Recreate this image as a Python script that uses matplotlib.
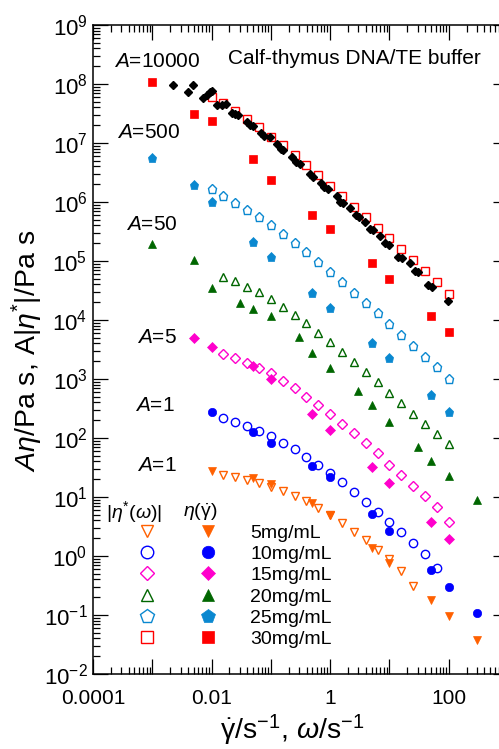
import numpy as np
import matplotlib
matplotlib.use('Agg')
import matplotlib.pyplot as plt
from matplotlib.legend_handler import HandlerTuple
from matplotlib.ticker import FixedLocator, LogLocator, FuncFormatter, NullFormatter

plt.rcParams['font.family'] = ['Liberation Sans', 'DejaVu Sans']
plt.rcParams['mathtext.fontset'] = 'custom'
plt.rcParams['mathtext.rm'] = 'Liberation Sans'
plt.rcParams['mathtext.it'] = 'Liberation Sans:italic'
plt.rcParams['mathtext.bf'] = 'Liberation Sans:bold'
plt.rcParams['axes.unicode_minus'] = False

# oscillatory frequency grid (rad/s), 5 points per decade
omega = [0.01, 0.0158, 0.0251, 0.0398, 0.0631, 0.1, 0.158, 0.251, 0.398, 0.631,
         1.0, 1.58, 2.51, 3.98, 6.31, 10.0, 15.8, 25.1, 39.8, 63.1, 100.0]

# |eta*(omega)| in Pa s (unshifted)
w_5 = omega[1:18]
etac_5 = [23.6, 21.8, 19.4, 17.3, 14.8, 12.6, 10.4, 8.55, 6.51, 4.95, 3.62, 2.55,
          1.87, 1.26, 0.889, 0.557, 0.310]
w_10 = omega[1:20]
etac_10 = [218, 187, 160, 131, 108, 82.3, 65.1, 47.6, 34.8, 25.5, 17.9, 12.2, 8.23,
           5.57, 3.77, 2.55, 1.66, 1.08, 0.627]
w_15 = omega[1:21]
etac_15 = [531, 454, 373, 307, 253, 185, 141, 99, 72.4, 51.1, 34.5, 24.3, 16.4, 11.1,
           6.97, 4.72, 3.07, 2.08, 1.36, 0.753]
w_20 = omega[1:21]
etac_20 = [1071, 916, 725, 597, 454, 332, 243, 178, 120, 84.7, 57.4, 38.8, 26.3, 17.8,
           11.6, 7.84, 5.11, 3.45, 2.34, 1.58]
w_25 = omega
etac_25 = [3320, 2520, 1920, 1460, 1114, 814, 574, 404, 284, 192, 130, 88, 57.4,
           38.8, 26.2, 17.2, 11.2, 7.2, 4.72, 3.2, 2.0]
w_30 = omega
etac_30 = [6020, 4760, 3480, 2550, 1870, 1260, 925, 626, 424, 287, 187, 126, 82.3,
           55.7, 36.2, 24.5, 16.0, 10.4, 6.78, 4.41, 2.76]

# steady shear eta(gamma_dot) in Pa s (unshifted)
g_5 = [0.01, 0.05, 0.1, 0.5, 1, 5, 10, 50, 100, 300]
eta_5 = [27.6, 21.0, 16.6, 7.91, 4.95, 1.37, 0.760, 0.179, 0.0962, 0.0377]
g_10 = [0.01, 0.05, 0.1, 0.5, 1, 5, 10, 50, 100, 300]
eta_10 = [276, 126, 82.3, 33.5, 21.8, 5.15, 2.65, 0.580, 0.299, 0.108]
g_15 = [0.005, 0.01, 0.05, 0.1, 0.5, 1, 5, 10, 50, 100]
eta_15 = [991, 697, 332, 200, 51.1, 27.4, 6.44, 3.45, 0.753, 0.388]
g_20 = [0.001, 0.005, 0.01, 0.03, 0.05, 0.1, 0.3, 0.5, 1, 3, 5, 10, 30, 50, 100, 300]
eta_20 = [3880, 2080, 697, 388, 307, 234, 103, 55.2, 30.7, 12.5, 7.25, 3.73, 1.41,
          0.815, 0.454, 0.178]
g_25 = [0.001, 0.005, 0.01, 0.05, 0.1, 0.5, 1, 5, 10, 50, 100]
eta_25 = [11140, 3880, 2000, 420, 234, 57.4, 32, 8.15, 4.54, 1.07, 0.55]
g_30 = [0.001, 0.005, 0.01, 0.05, 0.1, 0.5, 1, 5, 10, 50, 100]
eta_30 = [10800, 3100, 2360, 536, 236, 60, 34.9, 9.25, 4.95, 1.17, 0.626]

# second steady shear run for 30 mg/mL (black diamonds)
g_30b = [0.00223, 0.0040, 0.00485, 0.00716, 0.00835, 0.0094, 0.0102, 0.0123, 0.0150,
         0.0175, 0.0221, 0.0248, 0.0279, 0.0395, 0.0445, 0.0499, 0.0681, 0.0766,
         0.0966, 0.127, 0.148, 0.160, 0.227, 0.265, 0.310, 0.456, 0.513, 0.700, 0.785,
         0.918, 1.30, 1.46, 1.64, 2.16, 2.72, 3.06, 3.86, 4.69, 5.27, 6.92, 8.40, 9.8,
         13.9, 16.3, 22.2, 26.9, 30.3, 44.6, 52.1, 97]
eta_30b = [9620, 7310, 9620, 5790, 6510, 7310, 7600, 4400, 4400, 4580, 3220, 3100,
           2990, 2270, 2020, 1940, 1480, 1310, 1260, 962, 791, 761, 579, 476, 441, 299,
           265, 210, 180, 166, 126, 100, 96, 79, 60, 55.7, 45.8, 34.8, 33.5, 26.5, 20.2,
           18.7, 11.7, 11.2, 9.25, 6.78, 6.51, 3.92, 3.62, 2.10]

labels = ['5mg/mL', '10mg/mL', '15mg/mL', '20mg/mL', '25mg/mL', '30mg/mL']
shift = [1, 1, 5, 50, 500, 10000]
colors = ['#FF6000', '#0000FF', '#FF00CC', '#006600', '#0A88D0', '#FF0000']
markers = ['v', 'o', 'D', '^', 'p', 's']
msizes = [6.2, 6.0, 5.0, 6.2, 6.6, 5.5]

osc = [(w_5, etac_5), (w_10, etac_10), (w_15, etac_15), (w_20, etac_20),
       (w_25, etac_25), (w_30, etac_30)]
steady = [(g_5, eta_5), (g_10, eta_10), (g_15, eta_15), (g_20, eta_20),
          (g_25, eta_25), (g_30, eta_30)]

fig = plt.figure(figsize=(4.99, 7.49), dpi=100)
ax = fig.add_axes([93 / 499, 75 / 749, 415 / 499, 649 / 749])

handles = []
for i in range(6):
    w, ec = osc[i]
    g, e = steady[i]
    A = shift[i]
    lo, = ax.plot(w, np.array(ec) * A, linestyle='none', marker=markers[i],
                  ms=msizes[i], mfc='none', mec=colors[i], mew=1.0, zorder=3)
    lf, = ax.plot(g, np.array(e) * A, linestyle='none', marker=markers[i],
                  ms=msizes[i], mfc=colors[i], mec=colors[i], mew=0.5, zorder=4)
    handles.append((lo, lf))

ax.plot(g_30b, np.array(eta_30b) * shift[5], linestyle='none', marker='D', ms=3.8,
        color='black', zorder=5)

ax.set_xscale('log')
ax.set_yscale('log')
ax.set_xlim(1e-4, 1e3)
ax.set_ylim(1e-2, 1e9)

ax.xaxis.set_major_locator(FixedLocator(10.0 ** np.arange(-4, 4)))
ax.xaxis.set_major_formatter(FuncFormatter(
    lambda v, pos: ('%g' % v) if round(np.log10(v)) % 2 == 0 else ''))
ax.xaxis.set_minor_locator(LogLocator(base=10, subs=np.arange(2, 10), numticks=20))
ax.xaxis.set_minor_formatter(NullFormatter())
ax.yaxis.set_major_locator(LogLocator(base=10, numticks=20))
ax.yaxis.set_minor_locator(LogLocator(base=10, subs=np.arange(2, 10), numticks=20))
ax.yaxis.set_minor_formatter(NullFormatter())

ax.tick_params(which='both', direction='in', top=True, right=True, width=0.9)
ax.tick_params(which='major', length=10.8)
ax.tick_params(which='minor', length=5.2)
ax.tick_params(axis='x', which='major', pad=11, labelsize=15)
ax.tick_params(axis='y', which='major', pad=4, labelsize=16)
for s in ax.spines.values():
    s.set_linewidth(1.1)

fig.text(27 / 499, 1 - 351 / 749, r'$A\eta$/Pa s, A|$\eta^{*}$|/Pa s', rotation=90,
         ha='center', va='center', fontsize=20.5)
fig.text(292 / 499, 1 - 730 / 749,
         r'$\dot{\mathrm{\gamma}}$/s$^{-1}$, $\omega$/s$^{-1}$',
         ha='center', va='center', fontsize=20.5)

ax.text(0.325, 0.949, 'Calf-thymus DNA/TE buffer', transform=ax.transAxes,
        ha='left', va='center', fontsize=15)

# shift factor labels, bottom to top (5, 10, 15, 20, 25, 30 mg/mL)
txt_pos = [(0.202, 0.322), (0.198, 0.414), (0.202, 0.519), (0.205, 0.692),
           (0.210, 0.834), (0.258, 0.943)]
for i in range(6):
    x, y = txt_pos[i]
    ax.text(x, y, '$A$=%d' % shift[i], transform=ax.transAxes, ha='right',
            va='center', fontsize=15)

ax.text(0.099, 0.250, r'|$\eta^{*}(\omega)$|', transform=ax.transAxes,
        ha='center', va='center', fontsize=14)
ax.text(0.258, 0.250, r'$\eta(\dot{\mathrm{\gamma}})$', transform=ax.transAxes,
        ha='center', va='center', fontsize=14)

ax.legend(handles, labels, handler_map={tuple: HandlerTuple(ndivide=None, pad=0)},
          loc='upper left', bbox_to_anchor=(0.0566, 0.231), frameon=False,
          fontsize=14, numpoints=1, markerscale=1.5, handlelength=6.28,
          handletextpad=0.59, borderpad=0, borderaxespad=0, labelspacing=0.19)

plt.savefig('out.png', dpi=100)
